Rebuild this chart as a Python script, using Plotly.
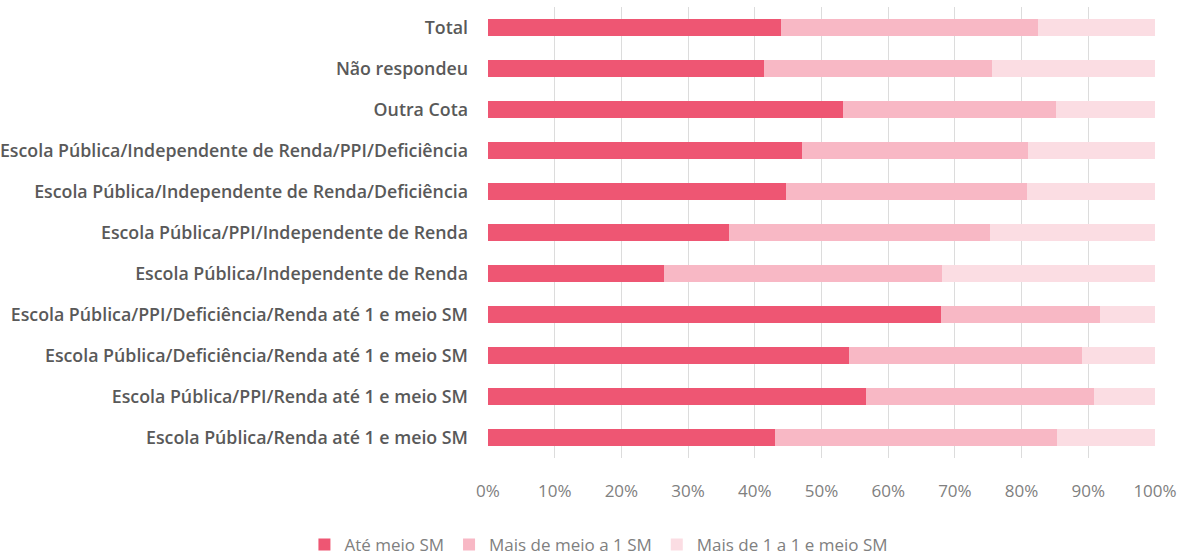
import plotly.graph_objects as go

categories = [
    "Total",
    "Não respondeu",
    "Outra Cota",
    "Escola Pública/Independente de Renda/PPI/Deficiência",
    "Escola Pública/Independente de Renda/Deficiência",
    "Escola Pública/PPI/Independente de Renda",
    "Escola Pública/Independente de Renda",
    "Escola Pública/PPI/Deficiência/Renda até 1 e meio SM",
    "Escola Pública/Deficiência/Renda até 1 e meio SM",
    "Escola Pública/PPI/Renda até 1 e meio SM",
    "Escola Pública/Renda até 1 e meio SM",
]
ate_meio = [43.9, 41.4, 53.2, 47.1, 44.7, 36.1, 26.4, 67.9, 54.1, 56.6, 43.0]
meio_a_1 = [38.6, 34.1, 32.0, 33.9, 36.1, 39.2, 41.6, 23.8, 35.0, 34.3, 42.3]
um_a_1_5 = [17.5, 24.5, 14.8, 19.0, 19.2, 24.7, 32.0, 8.3, 10.9, 9.1, 14.7]

series = [
    ("Até meio SM", ate_meio, "#EE5673"),
    ("Mais de meio a 1 SM", meio_a_1, "#F8B8C5"),
    ("Mais de 1 a 1 e meio SM", um_a_1_5, "#FBDDE3"),
]

fig = go.Figure()
for name, vals, color in series:
    fig.add_trace(go.Bar(
        y=categories, x=[v / 100 for v in vals], name=name, orientation="h",
        marker=dict(color=color, line=dict(width=0)),
    ))

fig.update_layout(
    width=1186, height=555,
    barmode="stack", bargap=0.58,
    paper_bgcolor="white", plot_bgcolor="white",
    margin=dict(l=488, r=31, t=7, b=97),
    font=dict(family="Open Sans", color="#595959"),
    legend=dict(
        orientation="h", xref="container", yref="container",
        x=0.505, xanchor="center", y=0.018, yanchor="middle",
        font=dict(size=17, color="#808080"), traceorder="normal",
        itemwidth=30,
    ),
    showlegend=True,
)
fig.update_xaxes(
    range=[0, 1], tickformat=".0%", dtick=0.1,
    showgrid=True, gridcolor="#dcdcdc", gridwidth=1,
    zeroline=False, showline=False, automargin=False,
    tickfont=dict(size=17, color="#808080"),
    ticklabelstandoff=21,
)
fig.update_yaxes(
    autorange="reversed", showgrid=False, showline=False, automargin=False,
    tickfont=dict(size=17.8, color="#595959", weight=600),
    ticklabelstandoff=19,
)

fig.write_html("out.html")
